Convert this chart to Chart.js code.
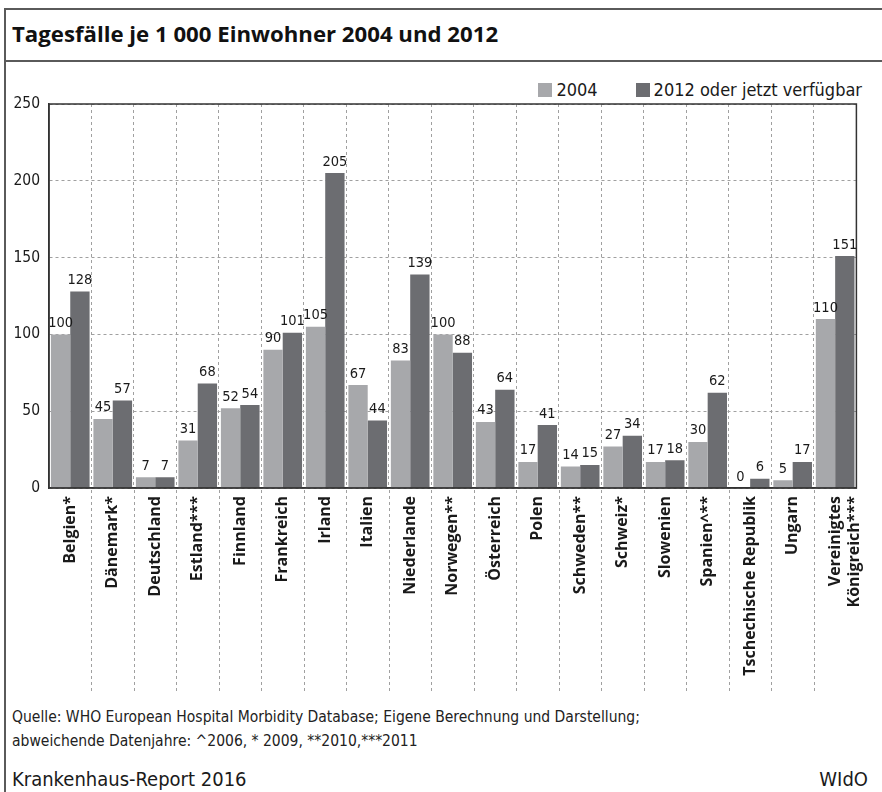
<!DOCTYPE html>
<html lang="de">
<head>
<meta charset="utf-8">
<title>Tagesfälle je 1 000 Einwohner 2004 und 2012</title>
<script src="https://cdn.jsdelivr.net/npm/chart.js@4"></script>
<style>
  html, body { margin: 0; padding: 0; background: #fff; }
  body { width: 882px; height: 792px; position: relative; overflow: hidden;
         font-family: "DejaVu Sans Condensed", "DejaVu Sans", sans-serif; color: #1a1a1a; }
  #frame { position: absolute; left: 4px; top: 8px; right: 0; bottom: 0;
           border-left: 2px solid #5a5a5a; border-top: 2px solid #5a5a5a; }
  #sep { position: absolute; left: 4px; right: 0; top: 60px; border-top: 2px solid #5a5a5a; }
  #title { position: absolute; left: 12px; top: 23px; font-family: "Open Sans", sans-serif;
           font-weight: bold; font-size: 22.2px; line-height: 22px; color: #111; }
  #legend { position: absolute; right: 20px; top: 81px; display: flex; font-size: 18px; line-height: 18px; }
  #legend .item { display: flex; align-items: center; margin-left: 38px; }
  #legend .box { width: 14px; height: 14px; margin-right: 4px; }
  #wrap { position: absolute; left: 0; top: 62px; width: 882px; height: 630px; }
  .foot { position: absolute; left: 12px; font-size: 15.5px; line-height: 16px; color: #222; }
  #report { position: absolute; left: 12px; top: 769px; font-size: 20px; line-height: 20px; }
  #wido { position: absolute; right: 14px; top: 769px; font-size: 20px; line-height: 20px; }
</style>
</head>
<body>
<div id="frame"></div>
<div id="sep"></div>
<div id="title">Tagesfälle je 1 000 Einwohner 2004 und 2012</div>
<div id="legend"></div>
<div id="wrap"><canvas id="chart" width="882" height="630"></canvas></div>
<div class="foot" style="top:709px">Quelle: WHO European Hospital Morbidity Database; Eigene Berechnung und Darstellung;</div>
<div class="foot" style="top:733px">abweichende Datenjahre: ^2006, * 2009, **2010,***2011</div>
<div id="report">Krankenhaus-Report 2016</div>
<div id="wido">WIdO</div>
<script>
const countries = [
    'Belgien*', 'Dänemark*', 'Deutschland', 'Estland***', 'Finnland', 'Frankreich',
    'Irland', 'Italien', 'Niederlande', 'Norwegen**', 'Österreich', 'Polen',
    'Schweden**', 'Schweiz*', 'Slowenien', 'Spanien^**', 'Tschechische Republik',
    'Ungarn', ['Vereinigtes', 'Königreich***']
];
const values2004 = [100, 45, 7, 31, 52, 90, 105, 67, 83, 100, 43, 17, 14, 27, 17, 30, 0, 5, 110];
const values2012 = [128, 57, 7, 68, 54, 101, 205, 44, 139, 88, 64, 41, 15, 34, 18, 62, 6, 17, 151];
const seriesNames = ['2004', '2012 oder jetzt verfügbar'];
const yTicks = [0, 50, 100, 150, 200, 250];

const narrow = '"DejaVu Sans Condensed", "DejaVu Sans", sans-serif';
const lightGrey = '#a7a8ab';
const darkGrey = '#6c6d71';
const gridGrey = '#a0a0a0';

// legend as plain html, built from the series names
const legendEl = document.getElementById('legend');
[lightGrey, darkGrey].forEach((col, i) => {
    const item = document.createElement('div');
    item.className = 'item';
    item.innerHTML = '<span class="box" style="background:' + col + '"></span><span>' + seriesNames[i] + '</span>';
    legendEl.appendChild(item);
});

// value labels above the bars
const barLabels = {
    id: 'barLabels',
    afterDatasetsDraw(chart) {
        const ctx = chart.ctx;
        ctx.save();
        ctx.font = '14.5px ' + narrow;
        ctx.fillStyle = '#1a1a1a';
        ctx.textAlign = 'center';
        ctx.textBaseline = 'bottom';
        chart.data.datasets.forEach((ds, di) => {
            chart.getDatasetMeta(di).data.forEach((bar, i) => {
                ctx.fillText(ds.data[i], bar.x, bar.y - 4);
            });
        });
        ctx.restore();
    }
};

// box around the plot + category separators running down through the labels
const plotFrame = {
    id: 'plotFrame',
    afterDraw(chart) {
        const ctx = chart.ctx;
        const a = chart.chartArea;
        const xs = chart.scales.x;
        ctx.save();
        ctx.strokeStyle = gridGrey;
        ctx.lineWidth = 1;
        ctx.setLineDash([3, 3]);
        for (let i = 0; i < countries.length - 1; i++) {
            const x = Math.round((xs.getPixelForTick(i) + xs.getPixelForTick(i + 1)) / 2) + 0.5;
            ctx.beginPath();
            ctx.moveTo(x, a.bottom + 2);
            ctx.lineTo(x, chart.height);
            ctx.stroke();
        }
        ctx.setLineDash([]);
        ctx.strokeStyle = '#333';
        ctx.lineWidth = 1.5;
        ctx.strokeRect(a.left, a.top, a.right - a.left, a.bottom - a.top);
        ctx.restore();
    }
};

new Chart(document.getElementById('chart'), {
    type: 'bar',
    data: {
        labels: countries,
        datasets: [
            { label: seriesNames[0], data: values2004, backgroundColor: lightGrey },
            { label: seriesNames[1], data: values2012, backgroundColor: darkGrey }
        ]
    },
    options: {
        responsive: false,
        animation: false,
        layout: { padding: { top: 42, right: 17, left: 0, bottom: 0 } },
        datasets: { bar: { categoryPercentage: 0.91, barPercentage: 1.0 } },
        plugins: {
            legend: { display: false },
            tooltip: { enabled: false }
        },
        scales: {
            x: {
                grid: { offset: true, drawTicks: false, color: gridGrey, lineWidth: 1 },
                border: { display: true, color: '#333', width: 1.5, dash: [3, 3] },
                ticks: {
                    autoSkip: false, minRotation: 90, maxRotation: 90, padding: 8,
                    color: '#1a1a1a',
                    font: { family: '"Open Sans", sans-serif', size: 16, weight: 'bold' }
                },
                afterFit(scale) { scale.height = 204; }
            },
            y: {
                min: 0, max: 250,
                afterBuildTicks(scale) { scale.ticks = yTicks.map(v => ({ value: v })); },
                grid: { drawTicks: false, color: gridGrey, lineWidth: 1 },
                border: { display: true, color: '#333', width: 1.5, dash: [3, 3] },
                ticks: { padding: 9, color: '#1a1a1a', font: { family: narrow, size: 15.5 } },
                afterFit(scale) { scale.width = 49; }
            }
        }
    },
    plugins: [barLabels, plotFrame]
});
</script>
</body>
</html>
